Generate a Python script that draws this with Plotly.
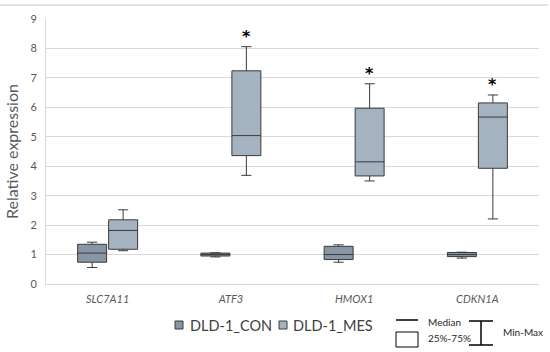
import plotly.graph_objects as go

categories = ["SLC7A11", "ATF3", "HMOX1", "CDKN1A"]

con_min = [0.56, 0.92, 0.74, 0.88]
con_q1 = [0.74, 0.95, 0.83, 0.93]
con_med = [1.05, 1.00, 1.00, 1.00]
con_q3 = [1.35, 1.05, 1.28, 1.07]
con_max = [1.42, 1.06, 1.33, 1.08]

mes_min = [1.13, 3.69, 3.50, 2.21]
mes_q1 = [1.18, 4.36, 3.67, 3.93]
mes_med = [1.82, 5.04, 4.15, 5.67]
mes_q3 = [2.18, 7.24, 5.97, 6.15]
mes_max = [2.52, 8.06, 6.80, 6.42]

significant = [False, True, True, True]

y_ticks = [0, 1, 2, 3, 4, 5, 6, 7, 8, 9]

FONT = "Lato, Carlito, Calibri, 'Liberation Sans', sans-serif"
CON_COLOR = "#8795a5"
MES_COLOR = "#a5b3c1"
EDGE = "#3a3a3a"

fig = go.Figure()
fig.add_trace(go.Box(
    name="DLD-1_CON", x=categories, q1=con_q1, median=con_med, q3=con_q3,
    lowerfence=con_min, upperfence=con_max,
    fillcolor=CON_COLOR, line=dict(color=EDGE, width=1), whiskerwidth=0.35,
    showlegend=False, hoverinfo="skip"))
fig.add_trace(go.Box(
    name="DLD-1_MES", x=categories, q1=mes_q1, median=mes_med, q3=mes_q3,
    lowerfence=mes_min, upperfence=mes_max,
    fillcolor=MES_COLOR, line=dict(color=EDGE, width=1), whiskerwidth=0.35,
    showlegend=False, hoverinfo="skip"))

# significance stars
for cat, mx, s in zip(categories, mes_max, significant):
    if s:
        fig.add_annotation(x=cat, y=mx, xref="x", yref="y", text="<b>*</b>",
                           showarrow=False, xshift=15.5, yshift=10,
                           yanchor="middle",
                           font=dict(family="DejaVu Sans", size=16, color="#000000"))

W, H = 550, 352
L, R, T, B = 46, 11, 19, 68
pw, ph = W - L - R, H - T - B


def px(x):
    return (x - L) / pw


def py(y):
    return (H - B - y) / ph


shapes = []
# top border line of chart area
shapes.append(dict(type="line", xref="paper", yref="paper", x0=px(0), x1=px(548),
                   y0=py(5), y1=py(5), line=dict(color="#d9d9d9", width=1.5)))
# legend squares
for x0, col in [(175, CON_COLOR), (279, MES_COLOR)]:
    shapes.append(dict(type="rect", xref="paper", yref="paper",
                       x0=px(x0), x1=px(x0 + 8), y0=py(329), y1=py(321),
                       fillcolor=col, line=dict(color=EDGE, width=1)))
# custom key: median line, box, min-max
shapes.append(dict(type="line", xref="paper", yref="paper", x0=px(396), x1=px(418),
                   y0=py(320), y1=py(320), line=dict(color="#000", width=1.5)))
shapes.append(dict(type="rect", xref="paper", yref="paper", x0=px(396), x1=px(418),
                   y0=py(347), y1=py(332), fillcolor="white", line=dict(color="#000", width=1)))
shapes.append(dict(type="line", xref="paper", yref="paper", x0=px(481), x1=px(481),
                   y0=py(345), y1=py(321), line=dict(color="#000", width=1.5)))
for yy in (321, 345):
    shapes.append(dict(type="line", xref="paper", yref="paper", x0=px(469), x1=px(493),
                       y0=py(yy), y1=py(yy), line=dict(color="#000", width=1.5)))

annotations_txt = [
    ("DLD-1_CON", 188, 325, 14.5, "#404040"),
    ("DLD-1_MES", 291, 325, 14.5, "#404040"),
    ("Median", 426, 322, 10, "#262626"),
    ("25%-75%", 426, 338, 10, "#262626"),
    ("Min-Max", 501, 332, 10, "#262626"),
]
for txt, x, y, sz, col in annotations_txt:
    fig.add_annotation(x=px(x), y=py(y), xref="paper", yref="paper", text=txt,
                       showarrow=False, xanchor="left", yanchor="middle",
                       font=dict(family=FONT, size=sz, color=col))

fig.update_layout(
    width=W, height=H,
    margin=dict(l=L, r=R, t=T, b=B, autoexpand=False),
    paper_bgcolor="white", plot_bgcolor="white",
    boxmode="group", boxgap=0.497, boxgroupgap=0.065,
    showlegend=False,
    shapes=shapes,
    font=dict(family=FONT, color="#595959"),
)
fig.update_xaxes(
    type="category", categoryorder="array", categoryarray=categories,
    showgrid=False, showline=True, linecolor="#d9d9d9", linewidth=1,
    ticks="", tickfont=dict(family=FONT, size=11, color="#595959", style="italic"),
    ticklabelstandoff=5,
)
fig.update_yaxes(
    range=[0, 9], tickvals=y_ticks, showgrid=True, gridcolor="#d9d9d9", gridwidth=1,
    showline=True, linecolor="#d9d9d9", linewidth=1, zeroline=False,
    ticks="", tickfont=dict(family=FONT, size=11, color="#595959"),
    ticklabelstandoff=6,
    title=dict(text="Relative expression", standoff=7,
               font=dict(family=FONT, size=16, color="#595959")),
)

fig.write_html("out.html", config={"displayModeBar": False},
               post_script="document.body.style.margin='0px';document.body.style.overflow='hidden';")
